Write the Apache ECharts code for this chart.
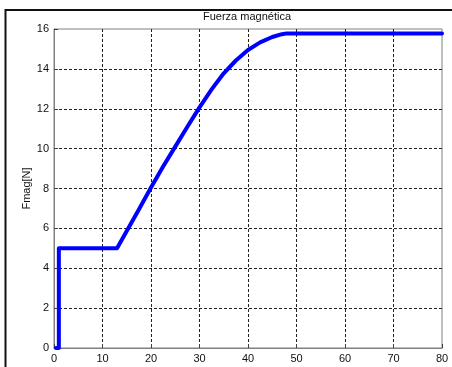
<!DOCTYPE html>
<html>
<head>
<meta charset="utf-8">
<script src="https://cdn.jsdelivr.net/npm/echarts@6/dist/echarts.min.js"></script>
<style>html,body{margin:0;padding:0;background:#fff;}#c{width:452px;height:367px;}</style>
</head>
<body>
<div id="c"></div>
<script>
var titleText = 'Fuerza magnética';
var yName = 'Fmag[N]';
var xValues = [0.4, 1, 1, 13, 15, 17.5, 20, 22.5, 25, 27.5, 30, 32.5, 35, 37.5, 40, 42.5, 45, 47, 48, 80];
var yValues = [0, 0, 5, 5, 5.87, 6.95, 8.05, 9.1, 10.1, 11.1, 12.07, 12.97, 13.78, 14.42, 14.95, 15.33, 15.6, 15.74, 15.78, 15.78];
var xTicks = [0, 10, 20, 30, 40, 50, 60, 70, 80];
var yTicks = [0, 2, 4, 6, 8, 10, 12, 14, 16];

var font = "'Liberation Sans', Arial, sans-serif";
var data = xValues.map(function (x, i) { return [x, yValues[i]]; });

var chart = echarts.init(document.getElementById('c'), null, {renderer: 'canvas'});
chart.setOption({
  animation: false,
  backgroundColor: '#fff',
  grid: {left: 54, right: 10, top: 29, bottom: 19, show: true, borderColor: '#808080', borderWidth: 1, backgroundColor: 'transparent'},
  xAxis: {
    type: 'value', min: xTicks[0], max: xTicks[xTicks.length - 1], interval: 10,
    axisLine: {show: true, lineStyle: {color: '#808080', width: 1}},
    axisTick: {show: true, inside: true, length: 4, lineStyle: {color: '#404040'}},
    axisLabel: {margin: 5, color: '#111', fontFamily: font, fontSize: 11},
    splitLine: {show: true, showMinLine: false, showMaxLine: false, lineStyle: {color: '#222', width: 1, type: [3, 2]}}
  },
  yAxis: {
    type: 'value', min: yTicks[0], max: yTicks[yTicks.length - 1], interval: 2,
    name: yName, nameLocation: 'middle', nameGap: 22, nameRotate: 90, nameMoveOverlap: false,
    nameTextStyle: {color: '#111', fontFamily: font, fontSize: 11},
    axisLine: {show: true, lineStyle: {color: '#808080', width: 1}},
    axisTick: {show: true, inside: true, length: 4, lineStyle: {color: '#404040'}},
    axisLabel: {margin: 5, color: '#111', fontFamily: font, fontSize: 11},
    splitLine: {show: true, showMinLine: false, showMaxLine: false, lineStyle: {color: '#222', width: 1, type: [3, 2]}}
  },
  series: [{
    type: 'line', data: data, showSymbol: false, symbol: 'none',
    lineStyle: {color: '#0000ff', width: 4, join: 'round', cap: 'round'},
    clip: false
  }],
  graphic: [
    {type: 'line', shape: {x1: 5, y1: 10, x2: 452, y2: 10}, style: {stroke: '#111', lineWidth: 2}},
    {type: 'line', shape: {x1: 5.5, y1: 9, x2: 5.5, y2: 367}, style: {stroke: '#111', lineWidth: 2}},
    {type: 'text', x: 247, y: 17, style: {text: titleText, fill: '#111', font: '11px ' + font, textAlign: 'center', textVerticalAlign: 'middle'}}
  ]
});
</script>
</body>
</html>
